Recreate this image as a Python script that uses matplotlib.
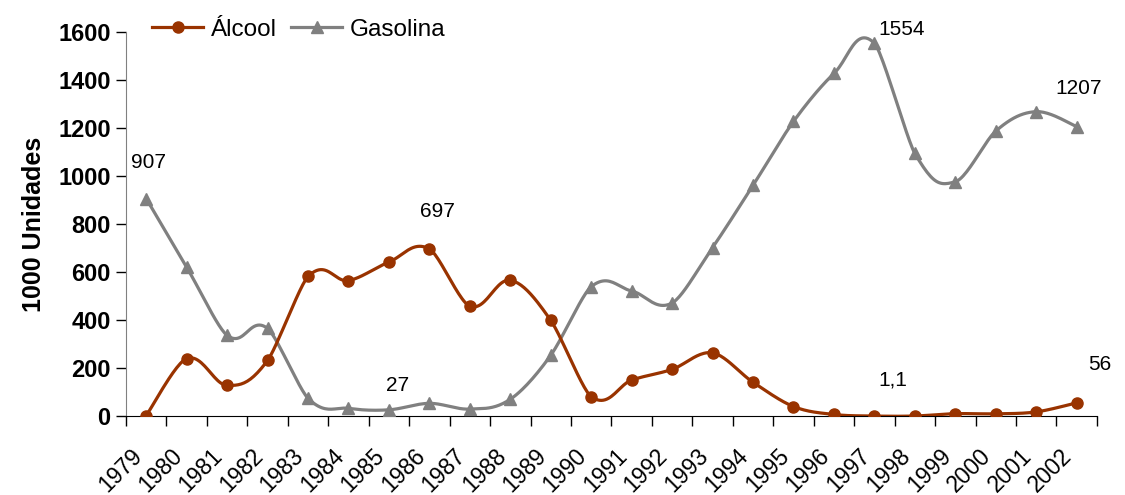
import numpy as np
import matplotlib
matplotlib.use('Agg')
import matplotlib.pyplot as plt

plt.rcParams['font.family'] = ['Liberation Sans', 'DejaVu Sans']

years = [str(y) for y in range(1979, 2003)]
alcool = [3.1, 240.6, 128.7, 232.6, 582.3, 565.5, 642.5, 697.0, 458.7, 566.5, 399.5, 82.0,
          151.0, 195.5, 264.2, 141.8, 40.7, 7.6, 1.1, 1.2, 10.9, 10.3, 18.3, 56.0]
gasolina = [907, 621, 337, 366, 75, 33, 27, 54, 30, 71, 254, 540,
            522, 472, 703, 962, 1228, 1428, 1554, 1095, 977, 1188, 1269, 1207]

# data labels: (series, index, text, dx px, dy px, ha)
labels = [
    ('g', 0, '907', 2, 36, 'center'),
    ('a', 7, '697', 8, 37, 'center'),
    ('g', 6, '27', 9, 24, 'center'),
    ('g', 18, '1554', 4, 14, 'left'),
    ('g', 23, '1207', 2, 38, 'center'),
    ('a', 18, '1,1', 18, 36, 'center'),
    ('a', 23, '56', 23, 38, 'center'),
]

RED = '#993300'
GRAY = '#808080'


def smooth(x, y, sx=40.5, sy=0.24, n=25):
    # smoothed line like excel: bezier arms weighted by segment lengths on screen
    x = np.asarray(x, float) * sx
    y = np.asarray(y, float) * sy
    P = np.column_stack([x, y])
    m = len(P)
    out = []
    t = np.linspace(0, 1, n)[:, None]
    for i in range(m - 1):
        p0, p3 = P[i], P[i + 1]
        a = P[i - 1] if i > 0 else P[i]
        b = P[i + 2] if i + 2 < m else P[i + 1]
        d_prev = np.linalg.norm(p0 - a)
        d_seg = np.linalg.norm(p3 - p0)
        d_next = np.linalg.norm(b - p3)
        if i == 0:
            d_prev = d_seg
        if i + 2 >= m:
            d_next = d_seg
        c1 = p0 + (p3 - a) * d_prev / (3 * (d_prev + d_seg))
        c2 = p3 - (b - p0) * d_next / (3 * (d_seg + d_next))
        bz = (1 - t) ** 3 * p0 + 3 * (1 - t) ** 2 * t * c1 + 3 * (1 - t) * t ** 2 * c2 + t ** 3 * p3
        out.append(bz)
    out = np.vstack(out)
    return out[:, 0] / sx, out[:, 1] / sy


fig = plt.figure(figsize=(11.25, 4.95), dpi=100)
ax = fig.add_axes([0.112, 0.159, 0.863, 0.776])

x = np.arange(len(years))
sx, sy = smooth(x, alcool)
ax.plot(sx, sy, color=RED, lw=2.3, zorder=3)
ax.plot(x, alcool, 'o', color=RED, ms=8, zorder=4)
gx, gy = smooth(x, gasolina)
ax.plot(gx, gy, color=GRAY, lw=2.3, zorder=2)
ax.plot(x, gasolina, '^', color=GRAY, ms=9, zorder=3)

for s, i, txt, dx, dy, ha in labels:
    yv = gasolina[i] if s == 'g' else alcool[i]
    ax.annotate(txt, (x[i], yv), xytext=(dx, dy), textcoords='offset pixels',
                ha=ha, va='center', fontsize=15)

ax.set_xlim(-0.5, len(years) - 0.5)
ax.set_ylim(0, 1600)
ax.set_yticks(range(0, 1601, 200))
ax.set_yticklabels([str(v) for v in range(0, 1601, 200)], fontsize=17, fontweight='bold')
ax.set_xticks(np.arange(-0.5, len(years), 1.0))
ax.set_xticklabels([])
# labels anchored a bit left of the category centre (ticks themselves are hidden)
ax.set_xticks(x - 0.4, minor=True)
ax.set_xticklabels(years, minor=True, rotation=45, ha='right', rotation_mode='anchor',
                   fontsize=16.5)
ax.tick_params(axis='x', which='minor', length=0, pad=20)
ax.tick_params(axis='x', which='major', length=7, direction='out', width=1)
ax.tick_params(axis='y', length=7, direction='out', width=1, pad=4)
ax.set_ylabel('1000 Unidades', fontsize=18, fontweight='bold', labelpad=9)

for side in ['top', 'right']:
    ax.spines[side].set_visible(False)
ax.spines['left'].set_color('#808080')
ax.spines['bottom'].set_color('black')

h1, = ax.plot([], [], '-o', color=RED, lw=2.3, ms=8)
h2, = ax.plot([], [], '-^', color=GRAY, lw=2.3, ms=9)
fig.legend([h1, h2], ['Álcool', 'Gasolina'], loc='center left',
           bbox_to_anchor=(0.116, 0.94), ncol=2, frameon=False, fontsize=17.5,
           handlelength=2.1, handletextpad=0.3, columnspacing=0.6)

plt.savefig('out.png', dpi=100)
